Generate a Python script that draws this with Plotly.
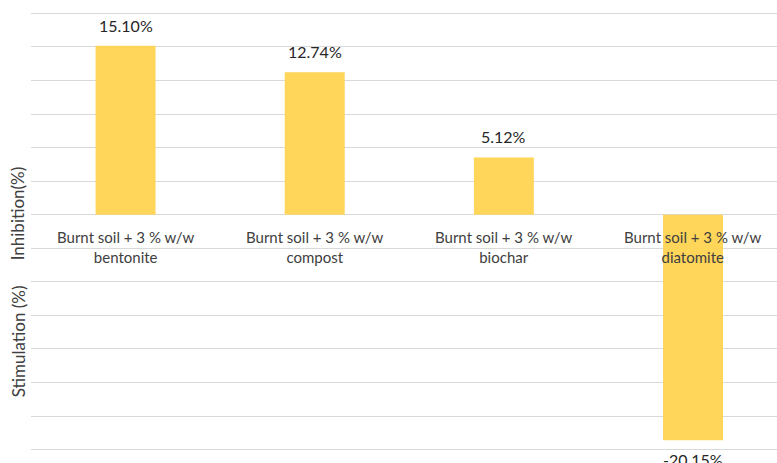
import plotly.graph_objects as go

categories = ["Burnt soil + 3 % w/w<br>bentonite", "Burnt soil + 3 % w/w<br>compost",
              "Burnt soil + 3 % w/w<br>biochar", "Burnt soil + 3 % w/w<br>diatomite"]
values = [15.10, 12.74, 5.12, -20.15]
value_labels = ["15.10%", "12.74%", "5.12%", "-20.15%"]

FONT = "Lato"
xpos = list(range(len(categories)))

fig = go.Figure()
fig.add_trace(go.Bar(
    x=xpos, y=values, width=0.317,
    marker=dict(color="#FFD55A", line=dict(width=0)),
    hoverinfo="skip",
))

for i, c in enumerate(categories):
    fig.add_annotation(x=xpos[i], y=0, xref="x", yref="y", text=c, showarrow=False,
                       yanchor="top", yshift=-11, align="center",
                       font=dict(family=FONT, size=15, color="#404040"))

for i, (v, t) in enumerate(zip(values, value_labels)):
    fig.add_annotation(x=xpos[i], y=v, xref="x", yref="y", text=t, showarrow=False,
                       yanchor="bottom" if v >= 0 else "top",
                       yshift=9 if v >= 0 else -8,
                       font=dict(family=FONT, size=16, color="#262626"))

T, B = 10, 10
H = 463 - T - B
fig.add_annotation(x=-0.017, xref="paper", y=(463 - B - 213) / H, yref="paper", text="Inhibition(%)",
                   showarrow=False, textangle=-90, xanchor="center", yanchor="middle",
                   font=dict(family=FONT, size=17, color="#404040"))
fig.add_annotation(x=-0.017, xref="paper", y=(463 - B - 341) / H, yref="paper", text="Stimulation (%)",
                   showarrow=False, textangle=-90, xanchor="center", yanchor="middle",
                   font=dict(family=FONT, size=17, color="#404040"))

fig.update_layout(
    width=777, height=463, margin=dict(l=31, r=0, t=T, b=B),
    plot_bgcolor="white", paper_bgcolor="white", showlegend=False,
    font=dict(family=FONT),
    xaxis=dict(range=[-0.5, 3.444], showticklabels=False, showgrid=False, zeroline=False,
               showline=False, ticks=""),
    yaxis=dict(range=[-21.3, 18.3], dtick=3, tick0=0, showticklabels=False, showgrid=True,
               gridcolor="#D9D9D9", gridwidth=1.3, zeroline=True, zerolinecolor="#D9D9D9",
               zerolinewidth=1.3, showline=False, ticks=""),
)

fig.write_html("out.html")
